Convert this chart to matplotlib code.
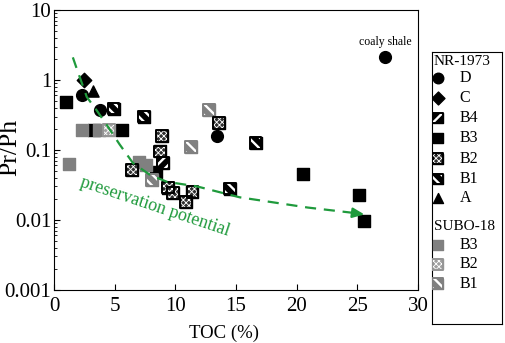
import matplotlib
matplotlib.use("Agg")
import matplotlib.pyplot as plt

plt.rcParams['font.family'] = ['Liberation Serif', 'DejaVu Serif']

green = '#1f9a3c'
grey = '#808080'

# NR-1973
d_x = [2.3, 3.8, 13.4, 27.3]
d_y = [0.61, 0.37, 0.16, 2.1]
c_x = [2.5]
c_y = [1.0]
a_x = [3.2]
a_y = [0.7]
b4_x = [9.0]
b4_y = [0.065]
b3_x = [1.0, 3.3, 5.6, 8.4, 20.5, 25.1, 25.5]
b3_y = [0.48, 0.19, 0.19, 0.049, 0.045, 0.023, 0.0097]
b2_x = [8.9, 8.7, 13.6, 6.4, 9.4, 9.8, 10.9, 11.4]
b2_y = [0.16, 0.095, 0.24, 0.052, 0.029, 0.024, 0.018, 0.025]
b1_x = [4.9, 7.4, 16.6, 14.5]
b1_y = [0.39, 0.30, 0.126, 0.028]

# SUBO-18
s3_x = [1.2, 2.3, 3.7, 7.0, 7.6]
s3_y = [0.063, 0.19, 0.19, 0.067, 0.061]
s2_x = [4.5]
s2_y = [0.19]
s1_x = [12.8, 11.3, 8.1]
s1_y = [0.37, 0.11, 0.037]

# preservation potential trend
trend_x = [1.55, 1.9, 2.7, 3.5, 4.4, 5.4, 6.5, 7.9, 9.3, 11.8, 15.3, 20.9, 24.8]
trend_y = [2.1, 1.4, 0.57, 0.37, 0.22, 0.12, 0.065, 0.044, 0.035, 0.030, 0.021, 0.015, 0.0125]

S = 72
# marker, face, edge, hatch, hatch linewidth
styles = {
    'D':  ('o', 'black', 'black', None, 0),
    'C':  ('D', 'black', 'black', None, 0),
    'B4': ('s', 'black', 'black', '///', 1.7),
    'B3': ('s', 'black', 'black', None, 0),
    'B2': ('s', '#303030', 'black', 'xxxxxx', 0.6),
    'B1': ('s', 'black', 'black', '\\\\\\', 1.7),
    'A':  ('^', 'black', 'black', None, 0),
    'sB3': ('s', grey, grey, None, 0),
    'sB2': ('s', '#a0a0a0', '#959595', 'xxxxxx', 0.6),
    'sB1': ('s', grey, grey, '\\\\\\', 1.7),
}
sizes = {'C': 0.75, 'A': 0.9}


def draw(ax, key, x, y, z=3, scale=1.0):
    mk, fc, ec, hatch, hlw = styles[key]
    s = S * sizes.get(key, 1.0) * scale
    ax.scatter(x, y, s=s, marker=mk, facecolor=fc, edgecolor=ec,
               linewidths=1.0, zorder=z)
    if hatch:
        with plt.rc_context({'hatch.linewidth': hlw}):
            ax.scatter(x, y, s=s, marker=mk, facecolor='none', edgecolor='white',
                       hatch=hatch, linewidths=0, zorder=z + 0.01)
        ax.scatter(x, y, s=s, marker=mk, facecolor='none', edgecolor=ec,
                   linewidths=1.4, zorder=z + 0.02)


fig = plt.figure(figsize=(5.05, 3.43), dpi=100)
ax = fig.add_axes([0.107, 0.155, 0.721, 0.816])

draw(ax, 'B3', b3_x, b3_y)
draw(ax, 'sB3', s3_x, s3_y, 3.1)
draw(ax, 'sB2', s2_x, s2_y, 3.1)
draw(ax, 'sB1', s1_x, s1_y, 3.1)
draw(ax, 'B2', b2_x, b2_y, 3.2)
draw(ax, 'B1', b1_x, b1_y, 3.2)
draw(ax, 'B4', b4_x, b4_y, 3.2)
draw(ax, 'D', d_x, d_y, 3.3)
draw(ax, 'C', c_x, c_y, 3.3)
draw(ax, 'A', a_x, a_y, 3.3)

ax.plot(trend_x, trend_y, color=green, lw=1.6, ls=(0, (5, 3.5)), zorder=4)
ax.annotate('', xy=(25.8, 0.0118), xytext=(24.6, 0.0126),
            arrowprops=dict(arrowstyle='-|>,head_length=0.7,head_width=0.3',
                            color=green, lw=1.6), zorder=4)
ax.text(8.3, 0.0152, 'preservation potential', color=green, fontsize=13,
        rotation=-18.5, ha='center', va='center', zorder=5)
ax.text(27.3, 3.5, 'coaly shale', fontsize=8.5, ha='center', va='center')

ax.set_yscale('log')
ax.set_xlim(0, 30)
ax.set_ylim(0.001, 10)
ax.set_xticks([0, 5, 10, 15, 20, 25, 30])
ax.set_yticks([0.001, 0.01, 0.1, 1, 10])
ax.set_yticklabels(['0.001', '0.01', '0.1', '1', '10'])
ax.tick_params(which='both', direction='in', labelsize=15)
ax.tick_params(axis='y', pad=2)
ax.tick_params(axis='x', pad=5)
ax.tick_params(which='major', length=4)
ax.tick_params(which='minor', length=2)
ax.set_xlabel('TOC (%)', fontsize=13.5)
ax.xaxis.set_label_coords(0.467, -0.125)
ax.set_ylabel('Pr/Ph', fontsize=18.5)
ax.yaxis.set_label_coords(-0.09, 0.51)
for sp in ax.spines.values():
    sp.set_linewidth(0.8)

# legend panel
lg = fig.add_axes([0.855, 0.055, 0.140, 0.793])
lg.set_xlim(0, 71)
lg.set_ylim(320, 52)
lg.set_xticks([])
lg.set_yticks([])
for sp in lg.spines.values():
    sp.set_linewidth(0.8)

rows = [('NR-1973', None, 61), ('D', 'D', 77), ('C', 'C', 97), ('B4', 'B4', 117),
        ('B3', 'B3', 137), ('B2', 'B2', 157), ('B1', 'B1', 177), ('A', 'A', 196),
        ('SUBO-18', None, 224), ('B3', 'sB3', 242), ('B2', 'sB2', 261), ('B1', 'sB1', 280)]
for label, key, yy in rows:
    if key is None:
        lg.text(2, yy, label, fontsize=11, va='center', ha='left')
    else:
        draw(lg, key, [6], [yy], scale=0.8)
        lg.text(28, yy, label, fontsize=11.5, va='center', ha='left')

fig.savefig('out.png', dpi=100)
